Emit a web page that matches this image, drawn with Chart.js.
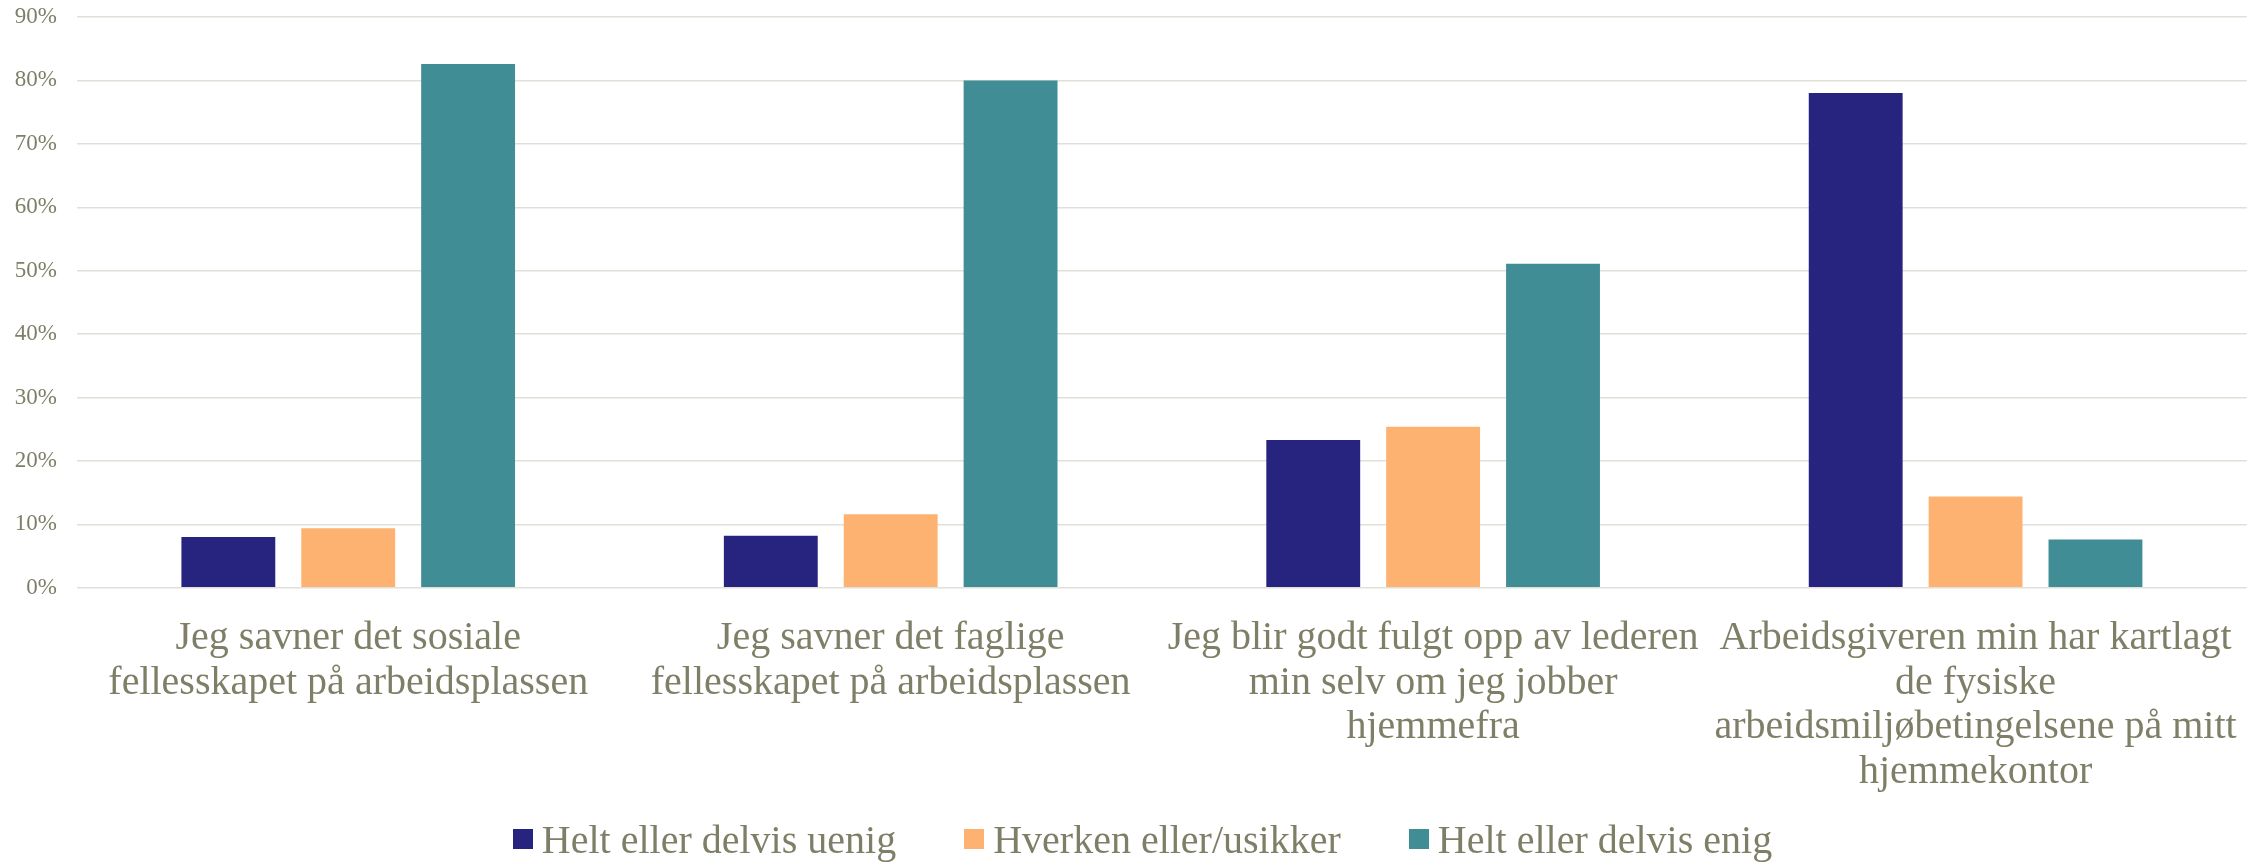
<!DOCTYPE html>
<html>
<head>
<meta charset="utf-8">
<script src="https://cdn.jsdelivr.net/npm/chart.js@4.4.1/dist/chart.umd.min.js"></script>
<style>
    html, body { margin: 0; padding: 0; background: #ffffff; }
    #wrap { width: 2267px; height: 862px; position: relative; }
    #legend {
        position: absolute; left: 0; right: 0; top: 815px; height: 48px;
        display: flex; justify-content: center; align-items: center;
        font-family: "Liberation Serif"; font-size: 40px; color: #7f7f67;
        padding-left: 18px;
    }
    #legend .item { display: flex; align-items: center; margin: 0 34px; white-space: nowrap; }
    #legend .box { width: 20px; height: 20px; margin-right: 9px; }
</style>
</head>
<body>
<div id="wrap"><canvas id="chart"></canvas><div id="legend"></div></div>
<script>
// Categories (statements), one array of lines per label
const categories = [
    ["Jeg savner det sosiale", "fellesskapet på arbeidsplassen"],
    ["Jeg savner det faglige", "fellesskapet på arbeidsplassen"],
    ["Jeg blir godt fulgt opp av lederen", "min selv om jeg jobber", "hjemmefra"],
    ["Arbeidsgiveren min har kartlagt", "de fysiske", "arbeidsmiljøbetingelsene på mitt", "hjemmekontor"],
];

// Series values in percent
const uenig = [8.0, 8.2, 23.3, 78.0];
const usikker = [9.4, 11.6, 25.4, 14.4];
const enig = [82.6, 80.0, 51.1, 7.6];

const seriesNames = ["Helt eller delvis uenig", "Hverken eller/usikker", "Helt eller delvis enig"];
const seriesColors = ["#27247f", "#fdb271", "#408d96"];

// Y axis ticks
const yMax = 90;
const yStep = 10;

const textColor = "#7f7f67";
const gridColor = "#e0e0d8";

const ctx = document.getElementById("chart").getContext("2d");
const chart = new Chart(ctx, {
    type: "bar",
    data: {
        labels: categories,
        datasets: [uenig, usikker, enig].map((values, i) => ({
            label: seriesNames[i],
            data: values,
            backgroundColor: seriesColors[i],
            borderWidth: 0,
            categoryPercentage: 0.663,
            barPercentage: 0.783,
        })),
    },
    options: {
        responsive: true,
        maintainAspectRatio: false,
        animation: false,
        layout: { autoPadding: false, padding: { top: 17, left: 0, right: 19, bottom: 39 } },
        plugins: {
            tooltip: { enabled: false },
            legend: { display: false },
        },
        scales: {
            x: {
                grid: { display: false, drawTicks: false },
                border: { display: false },
                ticks: {
                    color: textColor,
                    font: { family: "Liberation Serif", size: 40, lineHeight: 1.12 },
                    maxRotation: 0,
                    autoSkip: false,
                    padding: 28,
                },
            },
            y: {
                min: 0,
                max: yMax,
                grid: { color: gridColor, lineWidth: 1.5, drawTicks: false },
                border: { display: false },
                afterFit: (scale) => {
                    scale.width = 77;
                    scale.paddingTop = 0;
                },
                ticks: {
                    stepSize: yStep,
                    color: textColor,
                    font: { family: "Liberation Serif", size: 23 },
                    padding: 20,
                    callback: (v) => v + "%",
                },
            },
        },
    },
});

// Legend drawn as HTML below the canvas, from the same datasets
const legendEl = document.getElementById("legend");
chart.data.datasets.forEach((ds) => {
    const item = document.createElement("div");
    item.className = "item";
    const box = document.createElement("span");
    box.className = "box";
    box.style.background = ds.backgroundColor;
    const label = document.createElement("span");
    label.textContent = ds.label;
    item.appendChild(box);
    item.appendChild(label);
    legendEl.appendChild(item);
});
</script>
</body>
</html>
